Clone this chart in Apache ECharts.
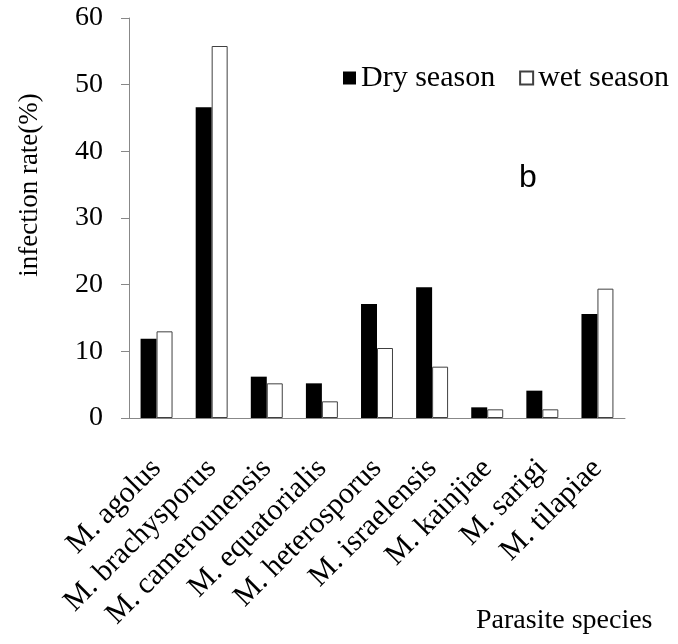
<!DOCTYPE html>
<html>
<head>
<meta charset="utf-8">
<script src="https://cdn.jsdelivr.net/npm/echarts@6/dist/echarts.min.js"></script>
<style>
  html, body { margin: 0; padding: 0; background: #fff; }
  #chart { width: 678px; height: 644px; }
</style>
</head>
<body>
<div id="chart"></div>
<script>
const species = [
  "M. agolus",
  "M. brachysporus",
  "M. camerounensis",
  "M. equatorialis",
  "M. heterosporus",
  "M. israelensis",
  "M. kainjiae",
  "M. sarigi",
  "M. tilapiae",
];
const drySeason = [11.9, 46.6, 6.2, 5.2, 17.1, 19.6, 1.6, 4.1, 15.6];
const wetSeason = [13.0, 55.8, 5.2, 2.5, 10.5, 7.7, 1.3, 1.3, 19.4];
const yTicks = [0, 10, 20, 30, 40, 50, 60];

const serif = "Liberation Serif";
const axisGrey = "#888888";

const chart = echarts.init(document.getElementById("chart"));

chart.setOption({
  animation: false,
  backgroundColor: "#ffffff",
  textStyle: { fontFamily: serif },
  grid: { left: 129, right: 53, top: 18, bottom: 226 },
  legend: {
    left: 338,
    top: 58,
    itemWidth: 13,
    itemHeight: 13,
    itemGap: 24,
    icon: "rect",
    textStyle: { fontFamily: serif, fontSize: 30, color: "#000" },
    data: ["Dry season", "wet season"],
  },
  xAxis: {
    type: "category",
    data: species,
    axisLine: { lineStyle: { color: axisGrey, width: 1 } },
    axisTick: { length: 9, lineStyle: { color: axisGrey } },
    axisLabel: {
      interval: 0,
      rotate: 45,
      margin: 46,
      fontFamily: serif,
      fontSize: 30,
      color: "#000",
    },
  },
  yAxis: {
    type: "value",
    min: yTicks[0],
    max: yTicks[yTicks.length - 1],
    interval: 10,
    splitLine: { show: false },
    axisLine: { show: true, lineStyle: { color: axisGrey, width: 1 } },
    axisTick: { show: true, length: 8, lineStyle: { color: axisGrey } },
    axisLabel: {
      margin: 26,
      fontFamily: serif,
      fontSize: 28,
      color: "#000",
    },
  },
  graphic: [
    {
      type: "text",
      x: 30,
      y: 185,
      rotation: Math.PI / 2,
      style: {
        text: "infection rate(%)",
        font: "27px " + serif,
        fill: "#000",
        align: "center",
        verticalAlign: "middle",
      },
    },
    {
      type: "text",
      left: 476,
      top: 607,
      style: {
        text: "Parasite species",
        font: "28px " + serif,
        fill: "#000",
      },
    },
    {
      type: "text",
      x: 528,
      y: 178,
      style: {
        text: "b",
        font: "32px 'Liberation Sans', Arial, sans-serif",
        fill: "#000",
        align: "center",
        verticalAlign: "middle",
      },
    },
  ],
  series: [
    {
      name: "Dry season",
      type: "bar",
      data: drySeason,
      barGap: "0%",
      barCategoryGap: "42%",
      itemStyle: { color: "#000000" },
    },
    {
      name: "wet season",
      type: "bar",
      data: wetSeason,
      barGap: "0%",
      barCategoryGap: "42%",
      itemStyle: { color: "#ffffff", borderColor: "#404040", borderWidth: 1 },
    },
  ],
});
</script>
</body>
</html>
